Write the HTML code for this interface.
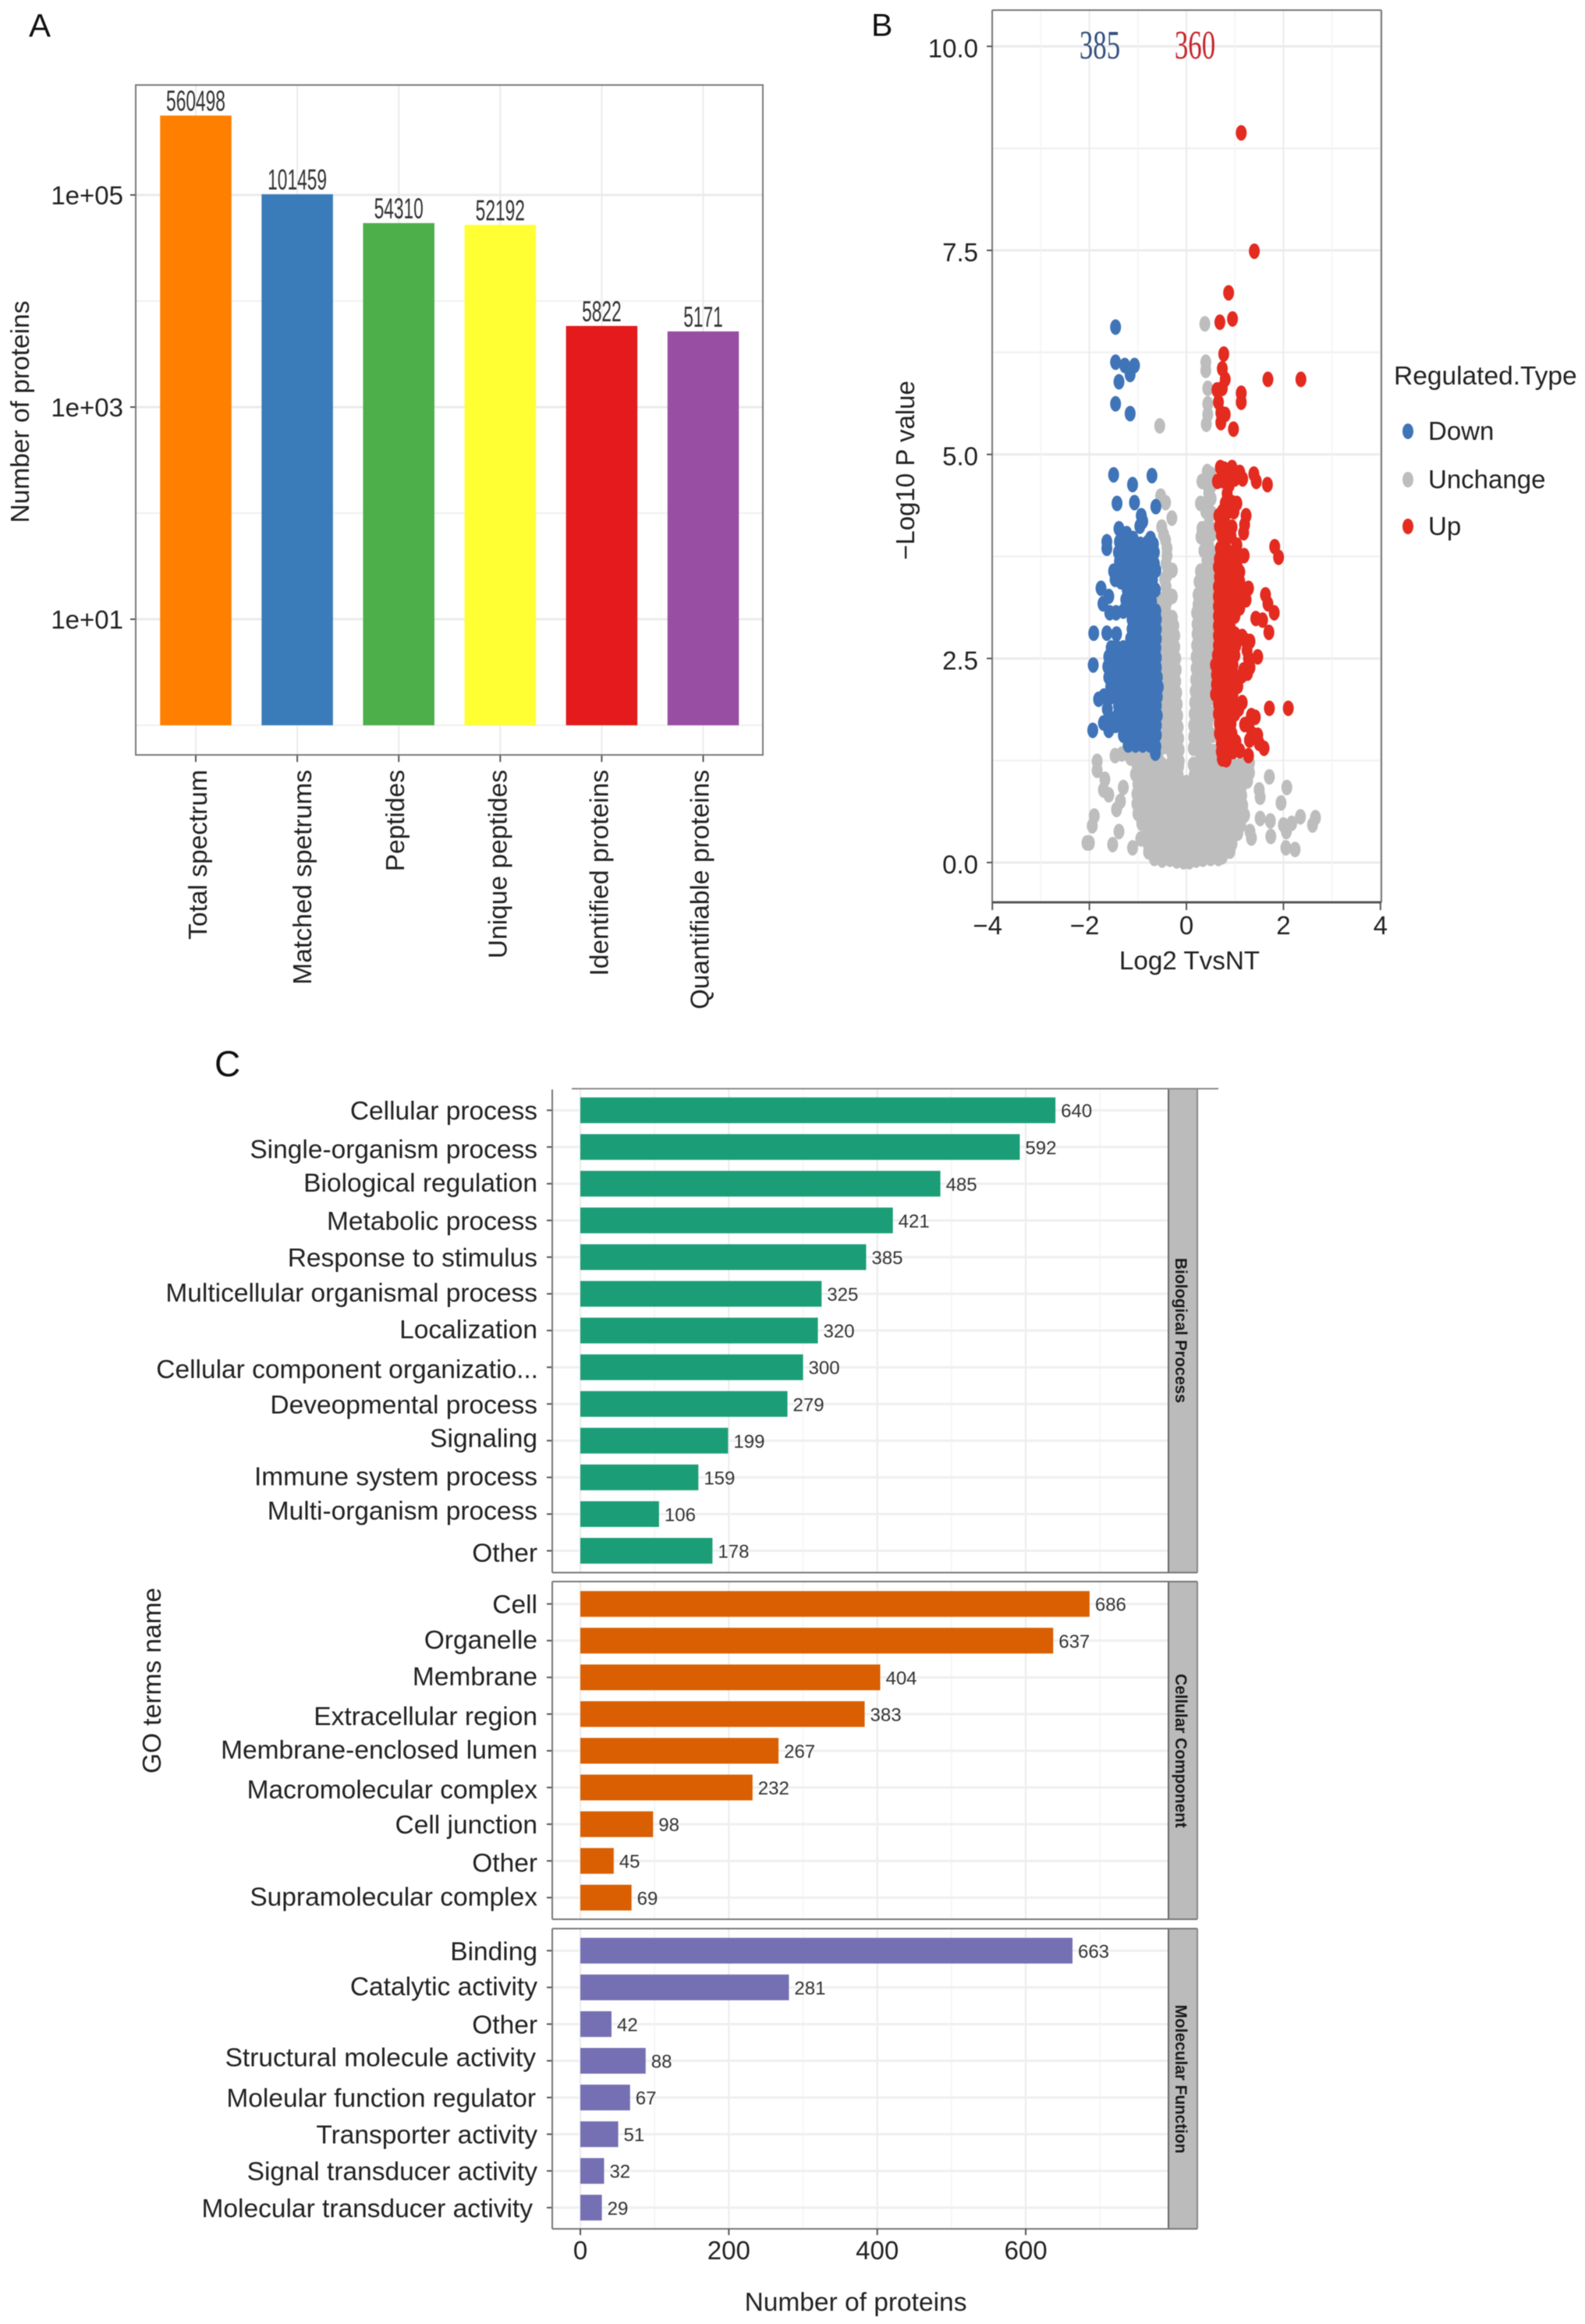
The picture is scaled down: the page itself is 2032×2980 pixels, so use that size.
<!DOCTYPE html>
<html lang="en">
<head>
<meta charset="utf-8">
<title>Proteomics summary figure</title>
<style>
html,body{margin:0;padding:0;background:#fff;}
svg{display:block;font-family:"Liberation Sans",Arial,sans-serif;filter:blur(0.6px);}
</style>
</head>
<body>
<svg id="figure" xmlns="http://www.w3.org/2000/svg" width="2032" height="2980" viewBox="0 0 2032 2980">
<rect x="0" y="0" width="2032" height="2980" fill="#ffffff"/>
<text x="37" y="47" font-size="42" fill="#111">A</text>
<text x="1117" y="46" font-size="41" fill="#111">B</text>
<text x="275" y="1380" font-size="46" fill="#111">C</text>
<g id="panelA"></g>
<g id="panelB"></g>
<g id="panelC"></g>
</svg>
<script>
/* ---------- Panel A data ---------- */
const aCategories = ['Total spectrum','Matched spetrums','Peptides','Unique peptides','Identified proteins','Quantifiable proteins'];
const aValues = [560498,101459,54310,52192,5822,5171];
const aColors = ['#ff7f00','#3a7cb9','#4daf4a','#ffff33','#e41a1c','#984ea3'];
const aMajorTicks = [100000,1000,10];
const aTickLabels = ['1e+05','1e+03','1e+01'];
const aMinorTicks = [10000,100,1];

/* ---------- Panel B data: [log2 fold change, -log10 p] ---------- */
const bXTicks = [-4,-2,0,2,4];
const bXMinor = [-3,-1,1,3];
const bYTicks = [0,2.5,5,7.5,10];
const bYTickLabels = ['0.0','2.5','5.0','7.5','10.0'];
const bYMinor = [1.25,3.75,6.25,8.75];
const bCountLabels = ['385','360'];
const bLegendLabels = ['Down','Unchange','Up'];

const unchangePoints = [
[.38,6.6],[.4,6.13],[.4,6.03],[.44,5.81],[.44,5.62],[.44,5.49],[.41,5.37],[-.55,5.35],
[.43,4.79],[.5,4.76],[.32,4.67],[.42,4.64],[.52,4.62],[.46,4.53],[.29,4.4],[.51,4.46],[.4,4.4],[.4,4.3],[.52,4.28],[.32,4.09],[.46,4.14],[.52,4.02],[.4,3.98],[.3,3.99],[.46,3.88],[.52,3.8],[.36,3.82],[.42,3.7],[.52,3.66],[.29,3.57],[.42,3.56],[.52,3.5],[.26,3.44],[.4,3.42],[.52,3.36],[.24,3.28],[.38,3.28],[.5,3.22],[.24,3.16],[.36,3.14],[.5,3.08],[.21,3.06],[.34,3.02],[.48,2.96],[.22,2.92],[.36,2.88],[.5,2.84],[.22,2.8],[.35,2.74],[.5,2.7],[.21,2.66],[.36,2.6],[.56,2.6],[.2,2.52],[.33,2.48],[.48,2.46],[.56,2.38],[.2,2.38],[.34,2.34],[.46,2.3],[.19,2.24],[.32,2.2],[.48,2.16],[.56,2.1],[.18,2.1],[.32,2.06],[.46,2],[.17,1.96],[.3,1.92],[.44,1.86],[.56,1.82],[.16,1.82],[.3,1.76],[.44,1.7],[.15,1.68],[.28,1.62],[.42,1.56],[.54,1.56],[.15,1.54],[.28,1.48],[.42,1.42],[.56,1.36],[.14,1.4],[.28,1.34],[.42,1.28],
[-.53,4.49],[-.43,4.41],[-.3,4.22],[-.51,4.11],[-.47,4.02],[-.43,3.95],[-.4,3.85],[-.4,3.76],[-.42,3.66],[-.29,3.58],[-.4,3.52],[-.45,3.47],[-.42,3.38],[-.29,3.26],[-.51,3.22],[-.4,3.2],[-.43,3.12],[-.29,3],[-.42,3],[-.5,2.96],[-.26,2.9],[-.38,2.88],[-.5,2.82],[-.24,2.78],[-.36,2.74],[-.5,2.68],[-.24,2.64],[-.38,2.6],[-.5,2.54],[-.22,2.5],[-.36,2.46],[-.5,2.4],[-.21,2.36],[-.36,2.32],[-.5,2.26],[-.22,2.22],[-.34,2.18],[-.48,2.12],[-.2,2.08],[-.34,2.04],[-.48,1.98],[-.19,1.94],[-.34,1.9],[-.48,1.84],[-.18,1.8],[-.32,1.76],[-.48,1.7],[-.17,1.66],[-.32,1.62],[-.46,1.56],[-.16,1.52],[-.3,1.48],[-.46,1.42],[-.15,1.38],[-.3,1.34],[-.58,1.28],[-.72,1.3],[-.88,1.34],[-1.02,1.31],[-1.15,1.28],[-.15,1.24],
[-1.47,1.31],[-1.33,1.33],[-1.84,1.24],[-1.84,1.13],[-1.68,1.02],[-1.71,.89],[-1.6,.83],[-1.3,.92],[-1.36,.75],[-1.44,.65],[-1.9,.57],[-1.94,.45],[-2.05,.24],[-2,.24],[-1.39,.38],[-1.52,.22],[-1.11,.18],[-.94,.29],
[1.71,1.05],[2.07,.92],[1.5,.89],[1.52,.8],[1.95,.73],[1.52,.54],[1.73,.51],[2,.46],[2.17,.48],[2.35,.56],[2.6,.46],[2.66,.55],[2.06,.38],[1.74,.32],[1.34,.3],[2.05,.18],[2.24,.16],[1.31,.38],
[-1.02,1.2],[-.86,1.2],[-.68,1.19],[-.5,1.2],[-.33,1.2],[-.16,1.18],[.14,1.2],[.3,1.2],[.48,1.22],[.64,1.23],[.8,1.22],[.96,1.2],[1.12,1.2],[1.24,1.16],[1.3,1.22],[1.3,1.1],[1.26,1],
[-1.05,1.08],[-.88,1.07],[-.7,1.08],[-.52,1.07],[-.34,1.08],[-.17,1.07],[0,.98],[.16,1.07],[.33,1.08],[.5,1.07],[.67,1.08],[.84,1.07],[1,1.08],[1.16,1.06],[1.24,1.08],
[-1,.96],[-.84,.95],[-.67,.96],[-.5,.95],[-.33,.96],[-.16,.95],[.17,.95],[.34,.96],[.51,.95],[.68,.96],[.85,.95],[1.02,.96],[1.14,.94],
[-1.02,.84],[-.86,.84],[-.7,.83],[-.53,.84],[-.36,.84],[-.18,.83],[0,.84],[.18,.84],[.35,.83],[.52,.84],[.69,.84],[.86,.83],[1.03,.84],[1.14,.82],
[-1.02,.72],[-.86,.71],[-.7,.72],[-.53,.72],[-.36,.71],[-.18,.72],[0,.72],[.18,.71],[.35,.72],[.52,.72],[.69,.71],[.86,.72],[1.03,.72],[1.16,.7],
[-1,.6],[-.84,.6],[-.68,.59],[-.5,.6],[-.34,.6],[-.17,.59],[0,.6],[.17,.6],[.34,.59],[.51,.6],[.68,.6],[.85,.59],[1.02,.6],[1.2,.58],
[-.92,.48],[-.78,.47],[-.62,.48],[-.46,.48],[-.3,.47],[-.15,.48],[0,.48],[.16,.47],[.32,.48],[.48,.48],[.64,.47],[.8,.48],[.96,.48],[1.12,.46],
[-.8,.36],[-.65,.36],[-.5,.35],[-.34,.36],[-.18,.36],[0,.35],[.16,.36],[.32,.36],[.48,.35],[.64,.36],[.8,.36],[.96,.35],[1.06,.36],
[-.8,.24],[-.66,.24],[-.5,.24],[-.34,.23],[-.18,.24],[0,.24],[.16,.23],[.32,.24],[.48,.24],[.64,.23],[.8,.24],[.94,.23],
[-.78,.13],[-.62,.13],[-.46,.12],[-.3,.13],[-.15,.13],[0,.12],[.15,.13],[.3,.12],[.46,.13],[.62,.13],[.78,.12],[.9,.14],
[-.66,.05],[-.5,.03],[-.34,.04],[-.2,.02],[-.06,.01],[.06,.01],[.2,.03],[.34,.04],[.5,.05],[.66,.05],
[-.95,1.14],[-.78,1.14],[-.6,1.13],[-.42,1.14],[-.25,1.13],[.24,1.14],[.4,1.13],[.58,1.14],[.76,1.13],[.92,1.14],[1.08,1.13],
[-.94,1.02],[-.76,1.02],[-.58,1.01],[-.42,1.02],[-.25,1.01],[.25,1.01],[.42,1.02],[.6,1.01],[.76,1.02],[.92,1.01],[1.08,1.02],
[-.92,.9],[-.76,.9],[-.6,.89],[-.44,.9],[-.26,.89],[-.08,.9],[.08,.89],[.26,.9],[.44,.89],[.6,.9],[.78,.89],[.95,.9],[1.1,.88],
[-.94,.78],[-.78,.78],[-.62,.77],[-.44,.78],[-.27,.77],[-.09,.78],[.09,.77],[.27,.78],[.44,.77],[.6,.78],[.78,.77],[.95,.78],[1.12,.76],
[-.92,.66],[-.76,.65],[-.6,.66],[-.42,.65],[-.26,.66],[-.08,.65],[.08,.66],[.26,.65],[.42,.66],[.6,.65],[.76,.66],[.94,.65],[1.1,.64],
[-.84,.54],[-.7,.53],[-.54,.54],[-.38,.53],[-.22,.54],[-.07,.53],[.08,.54],[.24,.53],[.4,.54],[.56,.53],[.72,.54],[.88,.53],[1.04,.54],
[-.72,.42],[-.56,.41],[-.4,.42],[-.24,.41],[-.08,.42],[.08,.41],[.24,.42],[.4,.41],[.56,.42],[.72,.41],[.88,.42],[1.02,.41],
[-.72,.3],[-.58,.29],[-.42,.3],[-.26,.29],[-.09,.3],[.08,.29],[.24,.3],[.4,.29],[.56,.3],[.72,.29],[.88,.3],
[-.7,.18],[-.54,.18],[-.38,.17],[-.22,.18],[-.07,.17],[.08,.18],[.22,.17],[.38,.18],[.54,.17],[.7,.18],[.86,.17],
[-.58,.08],[-.42,.07],[-.26,.08],[-.12,.06],[.03,.07],[.12,.06],[.26,.08],[.42,.07],[.58,.08],[.74,.07]
];

const downPoints = [
[-1.46,6.56],[-1.46,6.13],[-1.27,6.09],[-1.07,6.09],[-1.16,5.98],[-1.39,5.89],[-1.46,5.62],[-1.16,5.5],
[-1.5,4.75],[-.71,4.74],[-1.11,4.63],[-1.43,4.4],[-1.07,4.41],[-.63,4.36],[-.93,4.25],[-.96,4.12],[-1.39,4.09],[-1.23,4.03],[-1.64,3.93],[-1.64,3.85],[-.9,4.18],[-1.3,4.02],[-1.1,3.97],[-.74,3.97],
[-1.38,3.93],[-1.25,3.92],[-1.1,3.9],[-.95,3.9],[-.8,3.92],[-.68,3.9],
[-1.4,3.8],[-1.28,3.8],[-1.12,3.8],[-.97,3.8],[-.83,3.8],[-.66,3.8],
[-1.38,3.69],[-1.24,3.69],[-1.08,3.69],[-.92,3.69],[-.78,3.69],[-.66,3.66],
[-1.3,3.58],[-1.15,3.58],[-1,3.58],[-.85,3.58],[-.72,3.55],[-.63,3.58],[-1.5,3.57],[-1.47,3.47],
[-1.25,3.46],[-1.12,3.46],[-.98,3.46],[-.84,3.46],[-.7,3.46],[-1.35,3.44],
[-1.22,3.34],[-1.06,3.34],[-.95,3.34],[-.8,3.34],[-.64,3.34],[-1.76,3.36],[-1.6,3.26],[-1.72,3.17],[-1.58,3.06],[-1.45,3.06],
[-1.25,3.22],[-1.1,3.22],[-.97,3.22],[-.83,3.22],[-.72,3.2],
[-1.3,3.08],[-1.18,3.1],[-1.05,3.1],[-.9,3.1],[-.76,3.1],[-.63,3.08],
[-1.12,2.98],[-1,2.98],[-.88,2.98],[-.74,2.98],[-.62,2.98],
[-1.12,2.86],[-1,2.86],[-.86,2.86],[-.72,2.86],[-.62,2.86],
[-1.91,2.81],[-1.64,2.81],[-1.44,2.8],
[-1.15,2.74],[-1.02,2.74],[-.88,2.74],[-.74,2.74],[-.62,2.74],
[-1.55,2.63],[-1.45,2.64],[-1.3,2.63],[-1.18,2.63],[-1.04,2.63],[-.9,2.63],[-.76,2.63],[-.63,2.63],
[-1.6,2.52],[-1.5,2.51],[-1.35,2.51],[-1.2,2.51],[-1.05,2.51],[-.9,2.51],[-.75,2.51],[-.62,2.51],
[-1.92,2.42],[-1.62,2.4],[-1.5,2.39],[-1.35,2.39],[-1.2,2.39],[-1.05,2.39],[-.9,2.39],[-.75,2.39],[-.62,2.39],
[-1.6,2.27],[-1.46,2.27],[-1.32,2.27],[-1.18,2.27],[-1.03,2.27],[-.88,2.27],[-.74,2.27],[-.6,2.27],
[-1.56,2.15],[-1.42,2.15],[-1.28,2.15],[-1.14,2.15],[-1,2.15],[-.86,2.15],[-.72,2.15],[-.58,2.15],
[-1.81,2],[-1.7,2.04],[-1.56,2.03],[-1.42,2.03],[-1.28,2.03],[-1.14,2.03],[-1,2.03],[-.86,2.03],[-.72,2.03],[-.6,2.03],
[-1.63,1.88],[-1.4,1.92],[-1.27,1.92],[-1.14,1.92],[-1,1.92],[-.86,1.92],[-.72,1.92],[-.62,1.92],
[-1.71,1.71],[-1.58,1.76],[-1.42,1.8],[-1.28,1.8],[-1.14,1.8],[-1,1.8],[-.86,1.8],[-.72,1.8],[-.6,1.8],
[-1.93,1.62],[-1.6,1.62],[-1.46,1.68],[-1.32,1.68],[-1.18,1.68],[-1.04,1.68],[-.9,1.68],[-.76,1.68],[-.62,1.68],
[-1.3,1.56],[-1.16,1.56],[-1.02,1.56],[-.88,1.56],[-.74,1.56],[-.62,1.56],
[-1.2,1.44],[-1.05,1.44],[-.9,1.44],[-.75,1.44],[-.63,1.42],[-.64,1.34]
];

const upPoints = [
[1.13,8.94],[1.4,7.49],[.87,6.98],[.95,6.66],[.69,6.62],[.77,6.23],[.74,6.05],[.8,5.92],[.74,5.81],[.63,5.79],[1.13,5.75],[1.13,5.64],[.66,5.64],[.71,5.51],[.8,5.49],[.71,5.39],[.97,5.31],[1.68,5.92],[2.36,5.92],
[.7,4.84],[.78,4.82],[.94,4.84],[.83,4.75],[1.1,4.78],[1.16,4.7],[.64,4.67],[.74,4.68],[.9,4.72],[1,4.7],[.88,4.62],[1.39,4.76],[1.44,4.67],[1.67,4.63],[.84,4.52],
[1.04,4.4],[.8,4.4],[.94,4.41],[.74,4.3],[.86,4.3],[1.23,4.25],[1.2,4.14],[1.18,4.04],[.67,4.25],[.78,4.2],[.94,4.11],[.84,4.1],[.72,4.01],[.8,4],[.68,4.12],[.98,4.3],[.92,4],
[1.82,3.87],[1.9,3.74],[1.04,3.89],[1.19,3.76],[.7,3.85],[.8,3.88],[.76,3.75],[.68,3.72],[.88,3.8],[1,3.76],
[.66,3.62],[.78,3.62],[.9,3.64],[1.04,3.66],[1.1,3.56],[.68,3.5],[.8,3.5],[.92,3.5],[1.03,3.5],[1.1,3.44],[.66,3.38],[.78,3.38],[.9,3.38],[1.04,3.38],[1.28,3.36],[1.2,3.32],
[.66,3.26],[.78,3.26],[.9,3.26],[1.02,3.26],[1.13,3.24],[1.23,3.22],[.66,3.14],[.78,3.14],[.9,3.14],[1.02,3.14],[1.1,3.12],[1.63,3.28],[1.68,3.17],[1.81,3.06],[1.43,2.99],[1.57,2.97],[1.7,2.82],
[.66,3.02],[.78,3.02],[.9,3.02],[1,3.02],[.66,2.9],[.78,2.9],[.9,2.9],[.66,2.78],[.78,2.78],[.9,2.78],[1,2.8],[1.15,2.77],[1.08,2.76],[1.22,2.72],[1.31,2.71],
[.66,2.66],[.78,2.66],[.9,2.66],[1.02,2.66],[1.25,2.6],[1.28,2.5],[1.47,2.52],[.64,2.54],[.76,2.54],[.88,2.54],[1,2.54],[.6,2.42],[.72,2.42],[.84,2.42],[.96,2.42],[1.31,2.39],[1.26,2.32],[1.18,2.36],
[.62,2.3],[.74,2.3],[.86,2.3],[.98,2.3],[1.15,2.29],[1.06,2.26],[.62,2.18],[.74,2.18],[.86,2.18],[.98,2.18],[1.06,2.16],[.6,2.06],[.72,2.06],[.84,2.06],[.96,2.06],[.66,1.94],[.78,1.94],[.9,1.94],[1,1.94],[1.15,1.96],[1.08,1.88],[1.71,1.89],[2.1,1.89],
[.66,1.82],[.78,1.82],[.9,1.82],[1,1.82],[1.34,1.8],[1.42,1.78],[.68,1.7],[.8,1.7],[.92,1.7],[1.2,1.69],[1.3,1.72],[.68,1.58],[.8,1.58],[.94,1.58],[1.35,1.58],[1.47,1.56],[1.3,1.5],[.72,1.46],[.84,1.46],[.96,1.46],[1.02,1.48],[1.6,1.4],[1.5,1.46],[.72,1.36],[.84,1.36],[.96,1.36],[1.1,1.37],[1.28,1.31],[.74,1.27],[.82,1.26]
];

/* ---------- Panel C data ---------- */
const cXTicks = [0,200,400,600];
const cXMinor = [100,300,500,700];
const bpTerms = ['Cellular process','Single-organism process','Biological regulation','Metabolic process','Response to stimulus','Multicellular organismal process','Localization','Cellular component organizatio...','Deveopmental process','Signaling','Immune system process','Multi-organism process','Other'];
const bpCounts = [640,592,485,421,385,325,320,300,279,199,159,106,178];
const ccTerms = ['Cell','Organelle','Membrane','Extracellular region','Membrane-enclosed lumen','Macromolecular complex','Cell junction','Other','Supramolecular complex'];
const ccCounts = [686,637,404,383,267,232,98,45,69];
const mfTerms = ['Binding','Catalytic activity','Other','Structural molecule activity','Moleular function regulator','Transporter activity','Signal transducer activity','Molecular transducer activity'];
const mfCounts = [663,281,42,88,67,51,32,29];

/* ---------- Helpers ---------- */
const NS = 'http://www.w3.org/2000/svg';
function make(parent, tag, name, attrs) {
  const el = document.createElementNS(NS, tag);
  
  
  for (const k in attrs) el.setAttribute(k, attrs[k]);
  parent.appendChild(el);
  return el;
}
function line(parent, name, x1, y1, x2, y2, stroke, w) {
  return make(parent, 'line', name, {x1: x1, y1: y1, x2: x2, y2: y2, stroke: stroke, 'stroke-width': w});
}
function rect(parent, name, x, y, w, h, fill) {
  return make(parent, 'rect', name, {x: x, y: y, width: w, height: h, fill: fill});
}
function label(parent, name, str, x, y, size, opts) {
  const o = opts || {};
  const sx = o.sx || 1;
  const a = {'font-size': size, fill: o.fill || '#222', 'text-anchor': o.anchor || 'start'};
  if (o.family) a['font-family'] = o.family;
  if (o.weight) a['font-weight'] = o.weight;
  a.transform = 'translate(' + x + ' ' + y + ')' + (o.rotate ? ' rotate(' + o.rotate + ')' : '') + (sx !== 1 ? ' scale(' + sx + ' 1)' : '');
  const el = make(parent, 'text', name, a);
  el.textContent = str;
  return el;
}

/* ---------- Panel A ---------- */
(function () {
  const g = document.getElementById('panelA');
  const L = 174, R = 978, T = 109, B = 968;
  const yA = v => 930 - 136 * Math.log10(v);
  const xA = i => 251 + 130.1 * i;
  const barW = 91.5;
  const labelNudge = [14, 18, 7, 8, 8, 7];
  aMinorTicks.forEach(v => line(g, 'minor-gridline-y', L, yA(v), R, yA(v), '#f0f0f0', 2));
  aMajorTicks.forEach(v => line(g, 'major-gridline-y', L, yA(v), R, yA(v), '#ebebeb', 3));
  aCategories.forEach((c, i) => line(g, 'gridline-x', xA(i), T, xA(i), B, '#ebebeb', 2));
  aValues.forEach((v, i) => {
    rect(g, 'bar-' + aCategories[i].toLowerCase().replace(/ /g, '-'), xA(i) - barW / 2, yA(v), barW, yA(1) - yA(v), aColors[i]);
    label(g, 'bar-value-label', String(v), xA(i), yA(v) - 6, 37, {anchor: 'middle', sx: .615, fill: '#333'});
    line(g, 'x-tick', xA(i), B, xA(i), B + 9, '#555', 2);
    label(g, 'x-tick-label', aCategories[i], xA(i) + labelNudge[i], 987, 33.5, {anchor: 'end', rotate: -90});
  });
  aMajorTicks.forEach((v, i) => {
    line(g, 'y-tick', L - 7, yA(v), L, yA(v), '#555', 2);
    label(g, 'y-tick-label', aTickLabels[i], 158, yA(v) + 12, 33, {anchor: 'end'});
  });
  make(g, 'rect', 'plot-frame', {x: L, y: T, width: R - L, height: B - T, fill: 'none', stroke: '#7a7a7a', 'stroke-width': 2});
  label(g, 'y-axis-title', 'Number of proteins', 37, 528, 33.5, {anchor: 'middle', rotate: -90});
})();

/* ---------- Panel B ---------- */
(function () {
  const g = document.getElementById('panelB');
  const L = 1272, R = 1771, T = 13, B = 1157;
  const xB = v => 1521 + 62.2 * v;
  const yB = v => 1106 - 104.66 * v;
  bYMinor.forEach(v => line(g, 'minor-gridline-y', L, yB(v), R, yB(v), '#f2f2f2', 2.5));
  bYTicks.forEach(v => line(g, 'major-gridline-y', L, yB(v), R, yB(v), '#ebebeb', 3));
  bXMinor.forEach(v => line(g, 'minor-gridline-x', xB(v), T, xB(v), B, '#f4f4f4', 1.5));
  bXTicks.forEach(v => line(g, 'major-gridline-x', xB(v), T, xB(v), B, '#ebebeb', 2));
  function plot(points, color, name) {
    points.forEach(p => {
      make(g, 'ellipse', name, {cx: xB(p[0]), cy: yB(p[1]), rx: 7, ry: 10, fill: color});
    });
  }
  plot(unchangePoints, '#bdbdbd', 'point-unchange');
  plot(downPoints, '#3f74b8', 'point-down');
  plot(upPoints, '#e32b20', 'point-up');
  line(g, 'frame-top', L, T, R, T, '#777', 2);
  line(g, 'frame-right', R, T, R, B, '#777', 2);
  line(g, 'frame-left', L, T, L, B, '#777', 2);
  line(g, 'frame-bottom', L, B, R, B, '#555', 3);
  bXTicks.forEach(v => {
    line(g, 'x-tick', xB(v), B, xB(v), B + 10, '#555', 2);
    label(g, 'x-tick-label', (v < 0 ? '\u2212' : '') + Math.abs(v), xB(v) - (v < 0 ? 6 : 0), 1198, 33, {anchor: 'middle'});
  });
  bYTicks.forEach((v, i) => {
    line(g, 'y-tick', L - 7, yB(v), L, yB(v), '#555', 2);
    label(g, 'y-tick-label', bYTickLabels[i], 1254, yB(v) + 14, 33, {anchor: 'end'});
  });
  label(g, 'x-axis-title', 'Log2 TvsNT', 1525, 1243, 33.2, {anchor: 'middle'});
  label(g, 'y-axis-title', '\u2212Log10 P value', 1172, 603, 33, {anchor: 'middle', rotate: -90});
  label(g, 'down-count-label', bCountLabels[0], 1410, 75, 52, {anchor: 'middle', sx: .67, family: '"Liberation Serif",serif', fill: '#34507f'});
  label(g, 'up-count-label', bCountLabels[1], 1532, 75, 52, {anchor: 'middle', sx: .67, family: '"Liberation Serif",serif', fill: '#c8242c'});
  label(g, 'legend-title', 'Regulated.Type', 1787, 493, 33.5, {});
  const legendColors = ['#3f74b8', '#bdbdbd', '#e32b20'];
  const legendDotY = [553, 615, 675];
  bLegendLabels.forEach((t, i) => {
    make(g, 'ellipse', 'legend-dot-' + t.toLowerCase(), {cx: 1805, cy: legendDotY[i], rx: 7, ry: 10, fill: legendColors[i]});
    label(g, 'legend-label-' + t.toLowerCase(), t, 1831, legendDotY[i] + 11, 33, {});
  });
})();

/* ---------- Panel C ---------- */
(function () {
  const g = document.getElementById('panelC');
  const L = 708, SL = 1498, SR = 1535;
  const xC = v => 744 + 0.9517 * v;
  const step = 47.07, barH = 33;
  function facet(key, title, terms, counts, color, top, bottom, firstY, stripY, nudgeX, nudgeY) {
    cXMinor.forEach(v => line(g, key + '-minor-gridline-x', xC(v), top, xC(v), bottom, '#f4f4f4', 1.5));
    cXTicks.forEach(v => line(g, key + '-major-gridline-x', xC(v), top, xC(v), bottom, '#ebebeb', 2));
    terms.forEach((t, i) => {
      const y = firstY + step * i;
      line(g, key + '-gridline-y', L, y, SL, y, '#efefef', 3);
      line(g, key + '-y-tick', L - 7, y, L, y, '#555', 2);
      rect(g, key + '-bar', xC(0), y - barH / 2, xC(counts[i]) - xC(0), barH, color);
      label(g, key + '-value-label', String(counts[i]), xC(counts[i]) + 7, y + 9, 24, {fill: '#333'});
      label(g, key + '-term-label', t, 689 + nudgeX[i], y + 12 + nudgeY[i], 33.5, {anchor: 'end'});
    });
    rect(g, key + '-strip', SL, top, SR - SL, bottom - top, '#bbbbbb');
    line(g, key + '-frame-strip-line', SL, top, SL, bottom, '#666', 2);
    line(g, key + '-frame-left', L, top, L, bottom, '#777', 2);
    line(g, key + '-frame-bottom', L, bottom, SR, bottom, '#777', 2);
    line(g, key + '-frame-right', SR, top, SR, bottom, '#888', 2);
    label(g, key + '-strip-title', title, 1507, stripY, 20.8, {anchor: 'middle', rotate: 90, weight: 'bold', fill: '#1a1a1a'});
  }
  const bpNudgeX = [0,0,0,0,0,0,0,1,0,0,0,0,0];
  const bpNudgeY = [0,2,-2,0,0,-2,-2,2,0,-4,-2,-5,2];
  const ccNudgeX = [0,0,0,0,0,0,0,0,0];
  const ccNudgeY = [0,-2,-2,2,-2,2,0,2,-2];
  const mfNudgeX = [0,0,0,-2,-2,0,0,-6];
  const mfNudgeY = [0,-2,0,-5,0,0,0,0];
  facet('bp', 'Biological Process', bpTerms, bpCounts, '#1b9e77', 1397, 2016.5, 1423.7, 1706, bpNudgeX, bpNudgeY);
  facet('cc', 'Cellular Component', ccTerms, ccCounts, '#d95f02', 2028, 2461, 2056.7, 2245, ccNudgeX, ccNudgeY);
  facet('mf', 'Molecular Function', mfTerms, mfCounts, '#7570b3', 2473, 2858, 2501.3, 2666, mfNudgeX, mfNudgeY);
  line(g, 'cc-frame-top', L, 2028, SR, 2028, '#777', 2);
  line(g, 'mf-frame-top', L, 2473, SR, 2473, '#777', 2);
  line(g, 'bp-frame-top', 733, 1396, 1562, 1396, '#8a8a8a', 2);
  cXTicks.forEach(v => {
    line(g, 'x-tick', xC(v), 2858, xC(v), 2866, '#555', 2);
    label(g, 'x-tick-label', String(v), xC(v), 2897, 33, {anchor: 'middle'});
  });
  label(g, 'x-axis-title', 'Number of proteins', 1097, 2963, 33.5, {anchor: 'middle'});
  label(g, 'y-axis-title', 'GO terms name', 206, 2155, 33.5, {anchor: 'middle', rotate: -90});
})();
</script>
</body>
</html>
